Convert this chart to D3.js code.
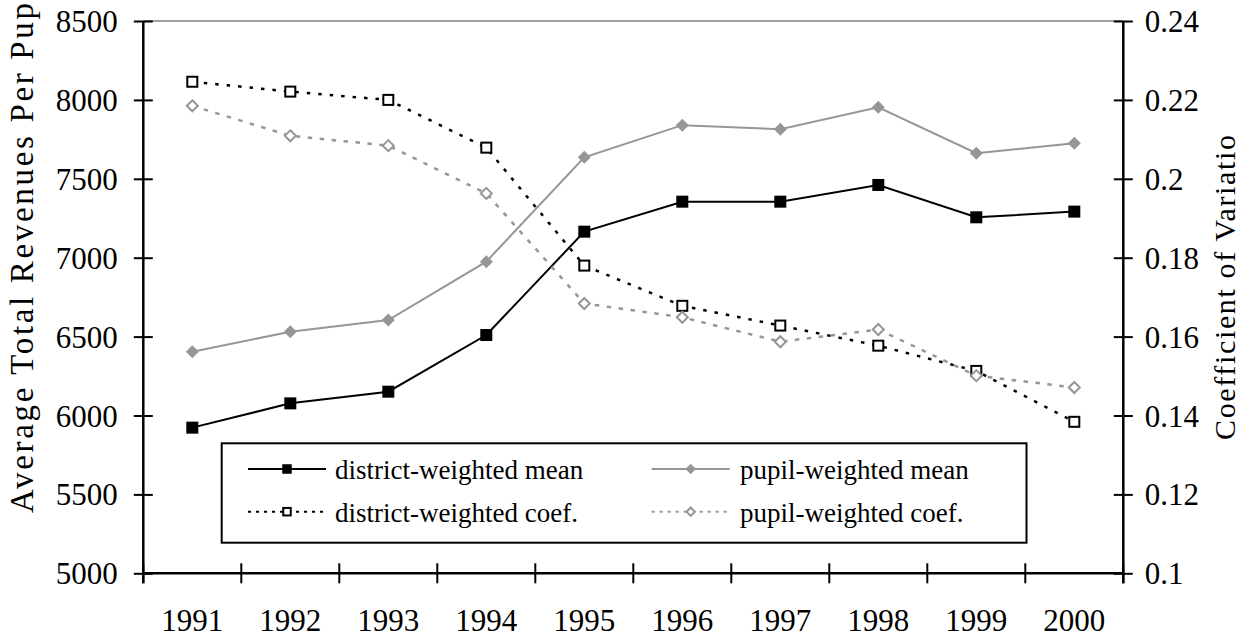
<!DOCTYPE html>
<html>
<head>
<meta charset="utf-8">
<script src="https://cdn.jsdelivr.net/npm/d3@7/dist/d3.min.js"></script>
<style>
    body { margin: 0; background: #fff; }
</style>
</head>
<body>
<div id="chart"></div>
<script>
var years = ["1991", "1992", "1993", "1994", "1995", "1996", "1997", "1998", "1999", "2000"];
var districtMean = [5923, 6077, 6151, 6510, 7165, 7355, 7355, 7461, 7256, 7292];
var pupilMean = [6404, 6531, 6605, 6975, 7636, 7840, 7814, 7953, 7662, 7725];
var districtCoef = [0.2246, 0.2221, 0.2200, 0.2079, 0.1780, 0.1678, 0.1628, 0.1577, 0.1513, 0.1384];
var pupilCoef = [0.2185, 0.2109, 0.2084, 0.1963, 0.1684, 0.1649, 0.1587, 0.1618, 0.1501, 0.1471];
var leftTicks = [5000, 5500, 6000, 6500, 7000, 7500, 8000, 8500];
var rightTicks = [0.1, 0.12, 0.14, 0.16, 0.18, 0.2, 0.22, 0.24];
var seriesNames = ["district-weighted mean", "pupil-weighted mean", "district-weighted coef.", "pupil-weighted coef."];

var width = 1249, height = 638;
var plot = { left: 143.3, right: 1123.3, top: 21, bottom: 573.3 };
var gray = "#969696";
var font = "'Liberation Serif', 'Times New Roman', serif";
var tickSize = 31;
var legendSize = 27;

var svg = d3.select("#chart").append("svg")
    .attr("width", width)
    .attr("height", height)
    .style("font-family", font);

var x = d3.scaleBand().domain(years).range([plot.left, plot.right]).padding(0);
var yL = d3.scaleLinear().domain([5000, 8500]).range([plot.bottom, plot.top]);
var yR = d3.scaleLinear().domain([0.1, 0.24]).range([plot.bottom, plot.top]);
var cx = function (d, i) { return x(years[i]) + x.bandwidth() / 2; };

// serie con stile
var series = [
    { name: seriesNames[0], values: districtMean, y: yL, color: "#000", width: 2, dash: null, marker: "square", fill: "#000" },
    { name: seriesNames[1], values: pupilMean, y: yL, color: gray, width: 2, dash: null, marker: "diamond", fill: gray },
    { name: seriesNames[2], values: districtCoef, y: yR, color: "#000", width: 2.5, dash: "3.5,8", marker: "square", fill: "#fff" },
    { name: seriesNames[3], values: pupilCoef, y: yR, color: gray, width: 2.5, dash: "4.5,7.5", marker: "diamond", fill: "#fff" }
];

// bordo superiore area grafico
svg.append("line")
    .attr("x1", plot.left).attr("x2", plot.right)
    .attr("y1", plot.top).attr("y2", plot.top)
    .attr("stroke", "#808080").attr("stroke-width", 1.5);

// asse Y sinistro
var lAxis = svg.append("g")
    .attr("transform", "translate(" + plot.left + ",0)")
    .call(d3.axisLeft(yL).tickValues(leftTicks).tickSize(9.5).tickPadding(16).tickFormat(function (d) { return d; }));
lAxis.attr("font-family", null).attr("font-size", null);
lAxis.select(".domain").remove();
lAxis.selectAll(".tick line").attr("x1", 9.5).attr("stroke", "#000").attr("stroke-width", 2);
lAxis.selectAll(".tick text").attr("font-size", tickSize).attr("dy", "0.34em").attr("fill", "#000")
    .style("font-family", font);

// asse Y destro
var rAxis = svg.append("g")
    .attr("transform", "translate(" + plot.right + ",0)")
    .call(d3.axisRight(yR).tickValues(rightTicks).tickSize(9.5).tickPadding(12).tickFormat(function (d) { return String(d); }));
rAxis.attr("font-family", null).attr("font-size", null);
rAxis.select(".domain").remove();
rAxis.selectAll(".tick line").attr("x1", -9.5).attr("stroke", "#000").attr("stroke-width", 2);
rAxis.selectAll(".tick text").attr("font-size", tickSize).attr("dy", "0.34em").attr("fill", "#000")
    .style("font-family", font);

// linee degli assi
svg.append("line")
    .attr("x1", plot.left).attr("x2", plot.left)
    .attr("y1", plot.top).attr("y2", plot.bottom + 10)
    .attr("stroke", "#000").attr("stroke-width", 2.5);
svg.append("line")
    .attr("x1", plot.right).attr("x2", plot.right)
    .attr("y1", plot.top).attr("y2", plot.bottom + 10)
    .attr("stroke", "#000").attr("stroke-width", 2.5);
svg.append("line")
    .attr("x1", plot.left).attr("x2", plot.right)
    .attr("y1", plot.bottom).attr("y2", plot.bottom)
    .attr("stroke", "#000").attr("stroke-width", 2.5);

// asse X: tacche ai bordi delle categorie
var bounds = years.map(function (d) { return x(d); }).concat([x(years[years.length - 1]) + x.bandwidth()]);
svg.selectAll(".xtick")
    .data(bounds)
  .enter().append("line")
    .attr("class", "xtick")
    .attr("x1", function (d) { return d; }).attr("x2", function (d) { return d; })
    .attr("y1", plot.bottom - 10).attr("y2", plot.bottom + 10)
    .attr("stroke", "#000").attr("stroke-width", 2);

svg.selectAll(".xlabel")
    .data(years)
  .enter().append("text")
    .attr("class", "xlabel")
    .attr("x", function (d) { return x(d) + x.bandwidth() / 2; })
    .attr("y", 631)
    .attr("font-size", tickSize)
    .attr("text-anchor", "middle")
    .style("font-family", font)
    .text(function (d) { return d; });

// titoli assi
svg.append("text")
    .attr("transform", "translate(33,513) rotate(-90)")
    .attr("font-size", 33)
    .attr("textLength", 510)
    .attr("lengthAdjust", "spacing")
    .style("font-family", font)
    .text("Average Total Revenues Per Pup");

svg.append("text")
    .attr("transform", "translate(1235,440) rotate(-90)")
    .attr("font-size", 30)
    .attr("textLength", 305)
    .attr("lengthAdjust", "spacing")
    .style("font-family", font)
    .text("Coefficient of Variatio");

// marcatori
function drawMarker(g, s, px, py, size) {
    if (s.marker == "square") {
        var h = s.fill == "#fff" ? size - 2 : size;
        g.append("rect")
            .attr("x", px - h / 2).attr("y", py - h / 2)
            .attr("width", h).attr("height", h)
            .attr("fill", s.fill)
            .attr("stroke", s.fill == "#fff" ? s.color : "none")
            .attr("stroke-width", 2);
    } else {
        var r = s.fill == "#fff" ? size / 2 - 0.5 : size / 2 + 0.5;
        g.append("path")
            .attr("d", "M" + px + "," + (py - r) + "L" + (px + r) + "," + py + "L" + px + "," + (py + r) + "L" + (px - r) + "," + py + "Z")
            .attr("fill", s.fill)
            .attr("stroke", s.fill == "#fff" ? s.color : "none")
            .attr("stroke-width", 2);
    }
}

// disegna le serie
series.forEach(function (s) {
    var g = svg.append("g");
    var line = d3.line()
        .x(cx)
        .y(function (d) { return s.y(d); });
    g.append("path")
        .datum(s.values)
        .attr("d", line)
        .attr("fill", "none")
        .attr("stroke", s.color)
        .attr("stroke-width", s.width)
        .attr("stroke-dasharray", s.dash);
    s.values.forEach(function (v, i) {
        drawMarker(g, s, cx(v, i), s.y(v), 12);
    });
});

// legenda
var legend = { x: 221.7, y: 443.3, w: 804.8, h: 99.4 };
svg.append("rect")
    .attr("x", legend.x).attr("y", legend.y)
    .attr("width", legend.w).attr("height", legend.h)
    .attr("fill", "#fff").attr("stroke", "#000").attr("stroke-width", 2);

var legendPos = [
    { lx: 248, tx: 335, y: 469 },
    { lx: 651.7, tx: 740, y: 469 },
    { lx: 248, tx: 335, y: 511.7 },
    { lx: 651.7, tx: 740, y: 511.7 }
];
series.forEach(function (s, i) {
    var p = legendPos[i];
    var g = svg.append("g").attr("class", "legend");
    g.append("line")
        .attr("x1", p.lx).attr("x2", p.lx + 78)
        .attr("y1", p.y).attr("y2", p.y)
        .attr("stroke", s.color)
        .attr("stroke-width", 2)
        .attr("stroke-dasharray", s.dash ? "3,5" : null);
    drawMarker(g, s, p.lx + 39, p.y, 9.5);
    g.append("text")
        .attr("x", p.tx)
        .attr("y", p.y + 10)
        .attr("font-size", legendSize)
        .style("font-family", font)
        .text(s.name);
});
</script>
</body>
</html>
